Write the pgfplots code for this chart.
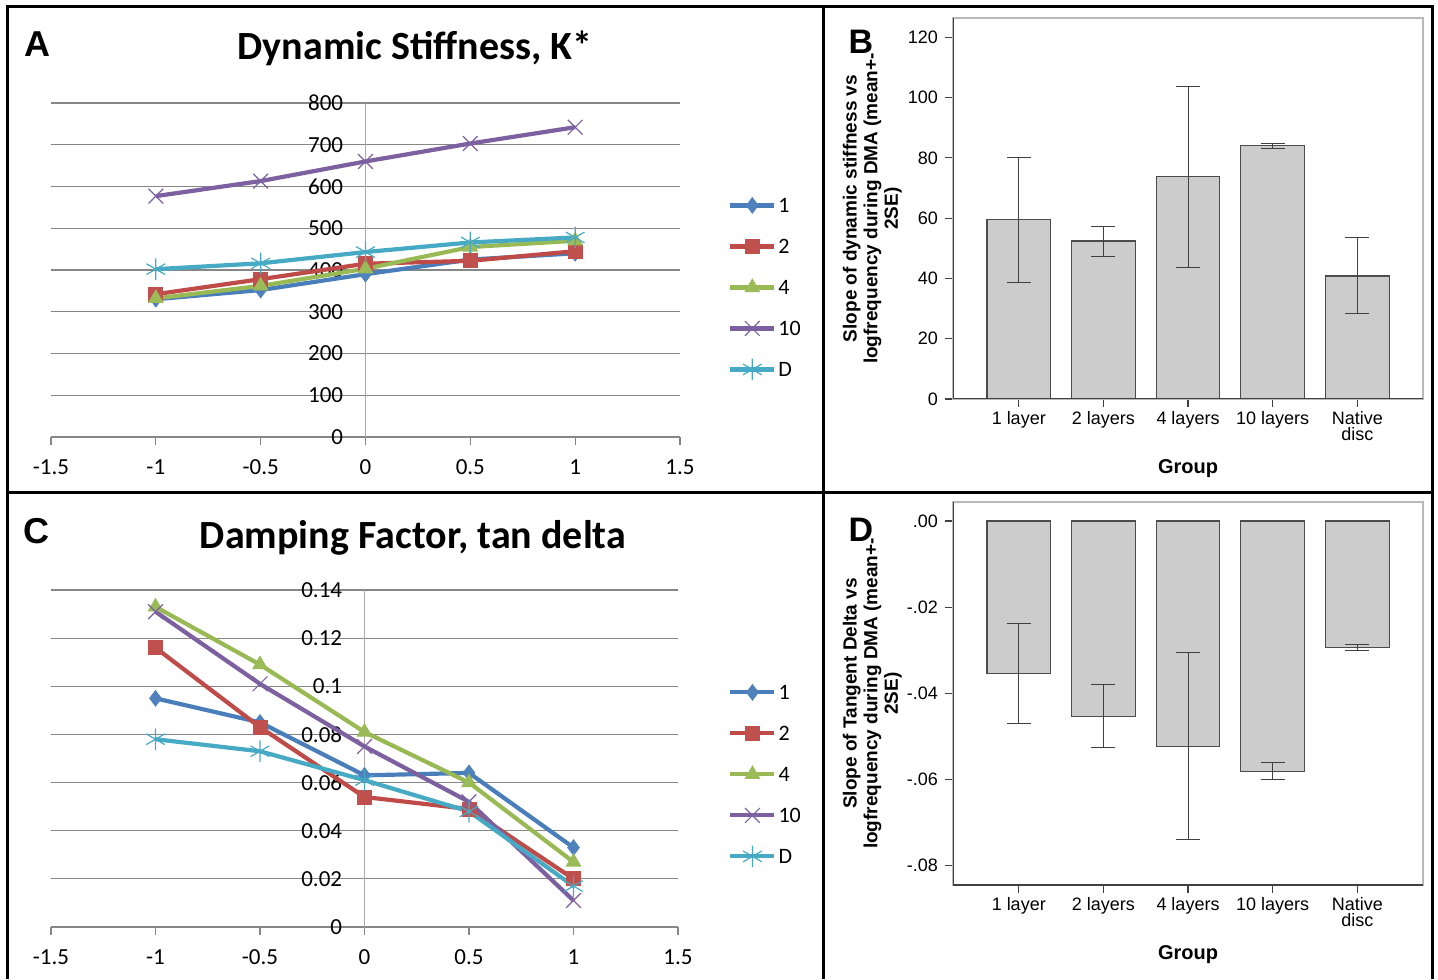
\documentclass[border=0pt]{standalone}
\usepackage{fontspec}
\setmainfont{Carlito}
\newfontfamily\arial{Liberation Sans}
\usepackage{pgfplots}
\pgfplotsset{compat=1.18}

\definecolor{s1}{HTML}{4A7EBB}
\definecolor{s1m}{HTML}{4F81BD}
\definecolor{s2}{HTML}{BE4B48}
\definecolor{s2m}{HTML}{C0504D}
\definecolor{s3}{HTML}{98B954}
\definecolor{s3m}{HTML}{9BBB59}
\definecolor{s4}{HTML}{7D60A0}
\definecolor{s5}{HTML}{46AAC5}
\definecolor{gridc}{HTML}{868686}
\definecolor{barfill}{HTML}{CCCCCC}

% Excel-like line panels (A, C)
\pgfplotsset{
  excel/.style={
    anchor=south west, scale only axis, clip=false,
    xmin=-1.5, xmax=1.5, ymin=0,
    axis lines=middle,
    hide obscured x ticks=false, hide obscured y ticks=false,
    x axis line style={-, gridc, line width=0.9pt},
    y axis line style={-, gridc!70, line width=0.5pt},
    xtick={-1.5,-1,-0.5,0,0.5,1,1.5},
    tick align=outside, major tick length=4pt,
    xtick style={gridc, line width=0.6pt}, ytick style={draw=none},
    ymajorgrids, grid style={gridc, line width=0.6pt},
    tick label style={font=\fontsize{11.5}{11.5}\selectfont},
    /pgf/number format/assume math mode=true,
    yticklabel style={anchor=east, inner sep=0pt, xshift=-7pt},
    xticklabel style={anchor=north, inner sep=0pt, yshift=-7pt},
    legend style={draw=none, fill=none, inner sep=0pt,
      font=\fontsize{11}{11}\selectfont, row sep=9.5pt,
      nodes={inner sep=1pt, text height=8pt, text depth=1pt},
      cells={anchor=west}},
    legend image code/.code={\draw[mark repeat=2, mark phase=2, ##1]
      plot coordinates {(0pt,0pt) (11pt,0pt) (22pt,0pt)};},
  },
  ser1/.style={s1, line width=2.1pt, mark=diamond*, mark size=3.9pt,
    mark options={solid, fill=s1m, draw=s1m, line width=0.4pt}},
  ser2/.style={s2, line width=2.1pt, mark=square*, mark size=3.5pt,
    mark options={solid, fill=s2m, draw=s2m, line width=0.4pt}},
  ser3/.style={s3, line width=2.1pt, mark=triangle*, mark size=4.2pt,
    mark options={solid, fill=s3m, draw=s3m, line width=0.4pt}},
  ser4/.style={s4, line width=2.1pt, mark=x, mark size=5.2pt,
    mark options={solid, line width=0.6pt}},
  ser5/.style={s5, line width=2.1pt, mark=asterisk, mark size=5.4pt,
    mark options={solid, line width=0.6pt}},
  % SPSS-like bar panels (B, D)
  spss/.style={
    anchor=south west, scale only axis, width=235pt,
    xmin=-0.777, xmax=4.777,
    ybar, bar width=0.753,
    xtick={0,1,2,3,4},
    xticklabels={1 layer, 2 layers, 4 layers, 10 layers, Native\\disc},
    xtick pos=left, ytick pos=left,
    tick align=outside, major tick length=4pt,
    scaled y ticks=false,
    /pgf/number format/assume math mode=true,
    axis line style={gray!55, line width=0.6pt},
    tick style={black!75, line width=0.6pt},
    tick label style={font=\arial\fontsize{9}{9}\selectfont},
    xticklabel style={align=center, yshift=1.5pt, font=\arial\fontsize{9}{8}\selectfont},
    xlabel={Group},
    xlabel style={font=\arial\bfseries\fontsize{10}{10}\selectfont, yshift=-3pt},
    ylabel style={align=center, inner sep=0pt,
      font=\arial\bfseries\fontsize{9.5}{10.3}\selectfont,
      at={(axis description cs:-0.108,0.5)}, anchor=south},
  },
  spssbar/.style={fill=barfill, draw=black!70, line width=0.6pt,
    error bars/.cd, y dir=both, y explicit,
    error bar style={black!75, line width=0.5pt},
    error mark options={black!75, line width=0.5pt, mark size=6pt, rotate=90}},
}

\begin{document}
\begin{tikzpicture}
\useasboundingbox (0,0) rectangle (719pt,489.5pt);

% panel frames
\draw[line width=1.5pt] (3.5pt,0pt) -- (3.5pt,486pt) -- (716pt,486pt) -- (716pt,0pt);
\draw[line width=1.5pt] (411.5pt,0pt) -- (411.5pt,486pt);
\draw[line width=1.5pt] (3.5pt,243pt) -- (716pt,243pt);

% ---------------- A ----------------
\begin{axis}[excel, at={(25.5pt,271pt)}, width=314.5pt, height=167pt,
  ymax=800, ytick={0,100,...,800},
  legend style={at={(axis description cs:1.076,0.7275)}, anchor=north west}]
\addplot[ser1] coordinates {(-1,330) (-0.5,352) (0,390) (0.5,425) (1,440)};
\addlegendentry{1}
\addplot[ser2] coordinates {(-1,342) (-0.5,378) (0,415) (0.5,422) (1,445)};
\addlegendentry{2}
\addplot[ser3] coordinates {(-1,332) (-0.5,362) (0,403) (0.5,455) (1,470)};
\addlegendentry{4}
\addplot[ser4] coordinates {(-1,577) (-0.5,613) (0,660) (0.5,703) (1,742)};
\addlegendentry{10}
\addplot[ser5] coordinates {(-1,402) (-0.5,416) (0,443) (0.5,466) (1,478)};
\addlegendentry{D}
\end{axis}

% ---------------- C ----------------
\begin{axis}[excel, at={(25.5pt,26pt)}, width=313.5pt, height=168.5pt,
  ymax=0.14, ytick={0,0.02,0.04,0.06,0.08,0.1,0.12,0.14},
  scaled y ticks=false,
  yticklabel style={/pgf/number format/fixed, /pgf/number format/precision=2},
  legend style={at={(axis description cs:1.0797,0.730)}, anchor=north west}]
\addplot[ser1] coordinates {(-1,0.095) (-0.5,0.085) (0,0.063) (0.5,0.064) (1,0.033)};
\addlegendentry{1}
\addplot[ser2] coordinates {(-1,0.116) (-0.5,0.083) (0,0.054) (0.5,0.049) (1,0.020)};
\addlegendentry{2}
\addplot[ser3] coordinates {(-1,0.133) (-0.5,0.109) (0,0.081) (0.5,0.060) (1,0.027)};
\addlegendentry{4}
\addplot[ser4] coordinates {(-1,0.131) (-0.5,0.101) (0,0.075) (0.5,0.052) (1,0.011)};
\addlegendentry{10}
\addplot[ser5] coordinates {(-1,0.078) (-0.5,0.073) (0,0.061) (0.5,0.048) (1,0.017)};
\addlegendentry{D}
\end{axis}

% ---------------- B ----------------
\begin{axis}[spss, at={(476.5pt,290pt)}, height=190.5pt,
  ymin=0, ymax=126.4, ytick={0,20,...,120},
  ylabel={Slope of dynamic stiffness vs\\logfrequency during DMA (mean+-\\2SE)}]
\addplot[spssbar] coordinates {
  (0,59.6) += (0,20.6) -= (0,20.8)
  (1,52.4) += (0,4.9)  -= (0,5.0)
  (2,73.7) += (0,30.0) -= (0,30.2)
  (3,84.0) += (0,0.8)  -= (0,0.8)
  (4,40.8) += (0,12.7) -= (0,12.4)
};
\draw[black!75, line width=0.6pt] (rel axis cs:0,1) -- (rel axis cs:0,0) -- (rel axis cs:1,0);
\end{axis}

% ---------------- D ----------------
\begin{axis}[spss, at={(476.5pt,47pt)}, height=191.5pt,
  ymin=-0.0845, ymax=0.0044,
  ytick={0,-0.02,-0.04,-0.06,-0.08},
  yticklabels={.00,-.02,-.04,-.06,-.08},
  ylabel={Slope of Tangent Delta vs\\logfrequency during DMA (mean+-\\2SE)}]
\addplot[spssbar] coordinates {
  (0,-0.0354) += (0,0.0117) -= (0,0.0115)
  (1,-0.0454) += (0,0.0075) -= (0,0.0072)
  (2,-0.0523) += (0,0.0217) -= (0,0.0217)
  (3,-0.0581) += (0,0.0021) -= (0,0.0019)
  (4,-0.0293) += (0,0.0007) -= (0,0.0008)
};
\draw[black!75, line width=0.6pt] (rel axis cs:0,1) -- (rel axis cs:0,0) -- (rel axis cs:1,0);
\end{axis}

% titles and panel letters
\node[font=\bfseries\fontsize{20}{20}\selectfont] at (207.5pt,465.5pt) {Dynamic Stiffness, K*};
\node[font=\bfseries\fontsize{20}{20}\selectfont] at (206.5pt,220.5pt) {Damping Factor, tan delta};
\node[font=\arial\bfseries\fontsize{18}{18}\selectfont] at (18.5pt,467.5pt) {A};
\node[font=\arial\bfseries\fontsize{18}{18}\selectfont] at (18pt,224pt) {C};
\node[font=\arial\bfseries\fontsize{17}{17}\selectfont] at (430.5pt,468.5pt) {B};
\node[font=\arial\bfseries\fontsize{17}{17}\selectfont] at (430.5pt,224.5pt) {D};
\end{tikzpicture}
\end{document}
